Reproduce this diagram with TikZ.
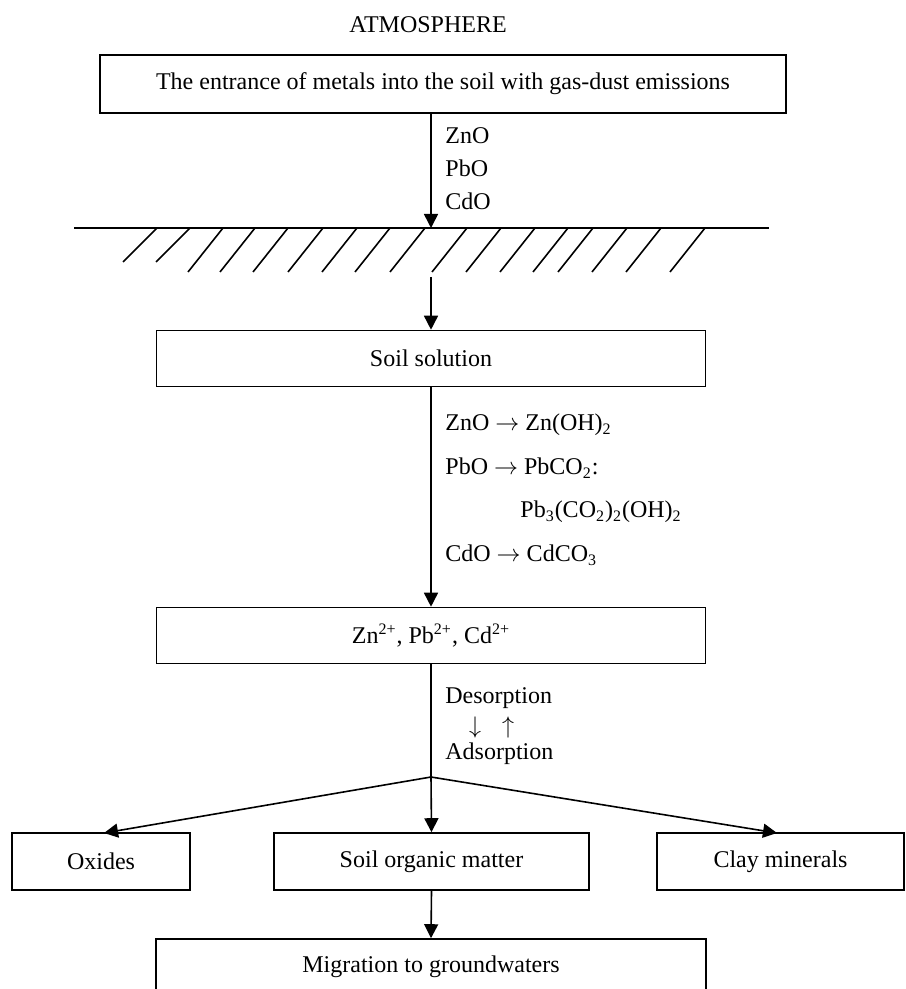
\documentclass[tikz,border=0pt]{standalone}
\usepackage{fontspec}
\setmainfont{Liberation Serif}
\usetikzlibrary{arrows.meta}

\tikzset{
  box/.style={draw, line width=0.8pt, rectangle, inner sep=0pt, minimum height=28pt},
  arr/.style={line width=0.8pt, -{Triangle[length=7pt,width=7pt]}},
  lbl/.style={anchor=west, inner sep=0pt},
}

\begin{document}
\begin{tikzpicture}[x=0.5pt, y=-0.5pt, font=\fontsize{12}{14}\selectfont]
	\useasboundingbox (0,0) rectangle (905,989);
	\node (atm) at (428,25) {ATMOSPHERE};
	\node[box, minimum width=343pt, minimum height=29pt] (entr) at (443,84) {The entrance of metals into the soil with gas-dust emissions};
	\coordinate (ground) at (431,228);
	\coordinate (below) at (431,277);
	\node[box, minimum width=274.5pt] (soil) at (431,358.5) {Soil solution};
	\node[box, minimum width=274.5pt] (ions) at (431,635.5) {Zn\textsuperscript{2+}, Pb\textsuperscript{2+}, Cd\textsuperscript{2+}};
	\coordinate (split) at (431,777);
	\node[box, minimum width=89pt, minimum height=28.5pt] (oxides) at (101,861.5) {Oxides};
	\node[box, minimum width=157.5pt, minimum height=28.5pt] (som) at (431.5,861.5) {Soil organic matter};
	\node[box, minimum width=123.5pt, minimum height=28.5pt] (clay) at (780.5,861.5) {Clay minerals};
	\node[box, minimum width=275pt] (migr) at (431,967) {Migration to groundwaters};

	% ground surface
	\draw[line width=0.8pt] (74,228) -- (769,228);
	\foreach \t in {157,190} \draw[line width=0.8pt] (\t,228) -- ++(-34,34);
	\foreach \t in {223,255,288,323,357,390,425,467,501,535,568,593,627,661,705} \draw[line width=0.8pt] (\t,228) -- ++(-35,44);

	% arrows
	\draw[arr] (ground |- entr.south) -- (ground);
	\draw[arr] (below) -- (soil.north);
	\draw[arr] (soil.south) -- (ions.north);
	\draw[line width=0.8pt] (ions.south) -- (split);
	\draw[arr] (split) -- (104,833);
	\draw[arr] (split) -- (som.north);
	\draw[arr] (split) -- (777,833);
	\draw[arr] (som.south) -- (migr.north);

	% labels
	\node[lbl] (zno) at (445,136) {ZnO};
	\node[lbl] (pbo) at (445,168) {PbO};
	\node[lbl] (cdo) at (445,201) {CdO};
	\node[lbl] (r1) at (445,425) {ZnO $\rightarrow$ Zn(OH)\textsubscript{2}};
	\node[lbl] (r2) at (445,468) {PbO $\rightarrow$ PbCO\textsubscript{2}:};
	\node[lbl] (r3) at (520,512) {Pb\textsubscript{3}(CO\textsubscript{2})\textsubscript{2}(OH)\textsubscript{2}};
	\node[lbl] (r4) at (445,555) {CdO $\rightarrow$ CdCO\textsubscript{3}};
	\node[lbl] (des) at (445,698) {Desorption};
	\node (dn) at (475,727) {$\downarrow$};
	\node (up) at (508,727) {$\uparrow$};
	\node[lbl] (ads) at (445,754) {Adsorption};
\end{tikzpicture}
\end{document}
